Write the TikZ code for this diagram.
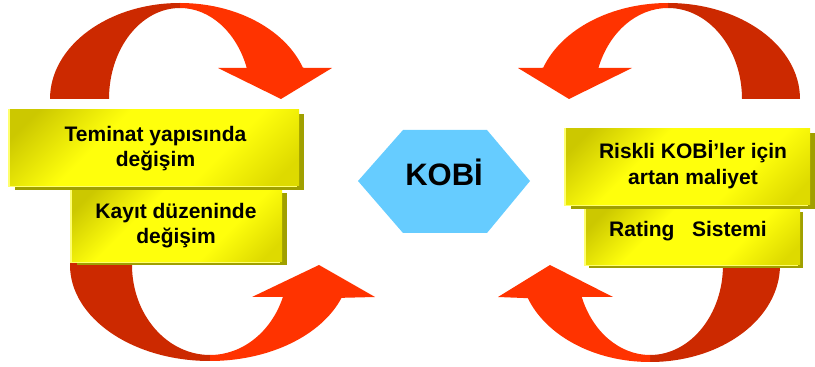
\documentclass[tikz,border=0pt]{standalone}
\usepackage{fontspec}
\setmainfont{Liberation Sans}
\usetikzlibrary{calc}
\definecolor{arrdark}{RGB}{204,41,0}
\definecolor{arrlight}{RGB}{255,51,0}
\definecolor{boxshadow}{RGB}{160,160,0}
\definecolor{boxhi}{RGB}{255,255,110}
\definecolor{boxdark}{RGB}{204,200,0}
\definecolor{boxbright}{RGB}{255,255,12}
\definecolor{boxdarktwo}{RGB}{222,218,0}
\definecolor{hexblue}{RGB}{102,204,255}
\pgfdeclareverticalshading{yellowbox}{100bp}{color(0bp)=(boxdarktwo); color(20bp)=(boxdarktwo); color(36bp)=(boxbright); color(62bp)=(boxbright); color(80bp)=(boxdark); color(100bp)=(boxdark)}
\begin{document}
\begin{tikzpicture}[x=1pt,y=1pt,
  boxtext/.style={anchor=base, font=\fontsize{21}{25}\selectfont\bfseries, inner sep=0pt},
  kobitext/.style={anchor=base, font=\fontsize{31}{36}\selectfont\bfseries, inner sep=0pt},
  boxfill/.style={shading=yellowbox, shading angle=45},
  darkpart/.style={fill=arrdark},
  lightpart/.style={fill=arrlight},
]
\useasboundingbox (0,0) rectangle (815,367);

% ---------- ellipse centres of the curved arrows
\coordinate (cTL) at (180,268);
\coordinate (cBL) at (210,102);
\coordinate (cTR) at (668,268);
\coordinate (cBR) at (650,102);

% ---------- top-left arrow
\fill[darkpart] ($(cTL)+(180:130pt and 96pt)$) arc[start angle=180, end angle=90, x radius=130pt, y radius=96pt]
  -- ($(cTL)+(90:71pt and 91pt)$) arc[start angle=90, end angle=180, x radius=71pt, y radius=91pt] -- cycle;
\fill[lightpart] ($(cTL)+(90:130pt and 96pt)$) arc[start angle=90, end angle=19, x radius=130pt, y radius=96pt]
  -- (332,299) -- (281,268) -- (218,299)
  -- ($(cTL)+(20:71pt and 91pt)$) arc[start angle=20, end angle=90, x radius=71pt, y radius=91pt] -- cycle;

% ---------- bottom-left arrow
\fill[darkpart] ($(cBL)+(-140,4)$) -- ($(cBL)+(180:140pt and 96pt)$) arc[start angle=180, end angle=270, x radius=140pt, y radius=96pt]
  -- ($(cBL)+(270:78pt and 90pt)$) arc[start angle=270, end angle=180, x radius=78pt, y radius=90pt] -- ($(cBL)+(-78,4)$) -- cycle;
\fill[lightpart] ($(cBL)+(270:140pt and 96pt)$) arc[start angle=270, end angle=340, x radius=140pt, y radius=96pt]
  -- (375,70) -- (319,102) -- (252,70)
  -- ($(cBL)+(339.2:78pt and 90pt)$) arc[start angle=339.2, end angle=270, x radius=78pt, y radius=90pt] -- cycle;

% ---------- top-right arrow
\fill[darkpart] ($(cTR)+(0:132pt and 96pt)$) arc[start angle=0, end angle=90, x radius=132pt, y radius=96pt]
  -- ($(cTR)+(90:74pt and 91pt)$) arc[start angle=90, end angle=0, x radius=74pt, y radius=91pt] -- cycle;
\fill[lightpart] ($(cTR)+(90:132pt and 96pt)$) arc[start angle=90, end angle=161, x radius=132pt, y radius=96pt]
  -- (518,299) -- (569,268) -- (632,299)
  -- ($(cTR)+(160:74pt and 91pt)$) arc[start angle=160, end angle=90, x radius=74pt, y radius=91pt] -- cycle;

% ---------- bottom-right arrow
\fill[darkpart] ($(cBR)+(130,4)$) -- ($(cBR)+(0:130pt and 97pt)$) arc[start angle=0, end angle=-90, x radius=130pt, y radius=97pt]
  -- ($(cBR)+(-90:73pt and 90pt)$) arc[start angle=-90, end angle=0, x radius=73pt, y radius=90pt] -- ($(cBR)+(73,4)$) -- cycle;
\fill[lightpart] ($(cBR)+(270:130pt and 97pt)$) arc[start angle=270, end angle=200, x radius=130pt, y radius=97pt]
  -- (498,70) -- (550,102) -- (613,70)
  -- ($(cBR)+(200.8:73pt and 90pt)$) arc[start angle=200.8, end angle=270, x radius=73pt, y radius=90pt] -- cycle;

% ---------- yellow boxes (lower ones first)
% left lower box
\fill[boxshadow] (77,102) rectangle (287,174);
\fill[boxhi] (70,104) rectangle (280,178);
\shade[boxfill] (72,105) rectangle (282,177);
% left upper box
\fill[boxshadow] (15,177) rectangle (304,253);
\fill[boxhi] (8,180) rectangle (297,258);
\shade[boxfill] (10,181) rectangle (299,257);
% right lower box
\fill[boxshadow] (589,99) rectangle (803,155);
\fill[boxhi] (584,101) rectangle (798,159);
\shade[boxfill] (586,102) rectangle (800,158);
% right upper box
\fill[boxshadow] (571,158) rectangle (815,234);
\fill[boxhi] (564,161) rectangle (808,239);
\shade[boxfill] (566,162) rectangle (810,238);

% ---------- hexagon
\fill[hexblue] (358,186) -- (403,237) -- (487,237) -- (530,186) -- (487,134) -- (403,134) -- cycle;
\node[kobitext] (kobi) at (444,181) {KOBİ};

% ---------- texts
\node[boxtext] (l1a) at (155.5,225) {Teminat yapısında};
\node[boxtext] (l1b) at (155.5,200) {değişim};
\node[boxtext] (l2a) at (176,148) {Kayıt düzeninde};
\node[boxtext] (l2b) at (176,123) {değişim};
\node[boxtext] (r1a) at (693,208) {Riskli KOBİ’ler için};
\node[boxtext] (r1b) at (693,182) {artan maliyet};
\node[boxtext] (r2) at (688,130) {Rating\ \ \ Sistemi};
\end{tikzpicture}
\end{document}
